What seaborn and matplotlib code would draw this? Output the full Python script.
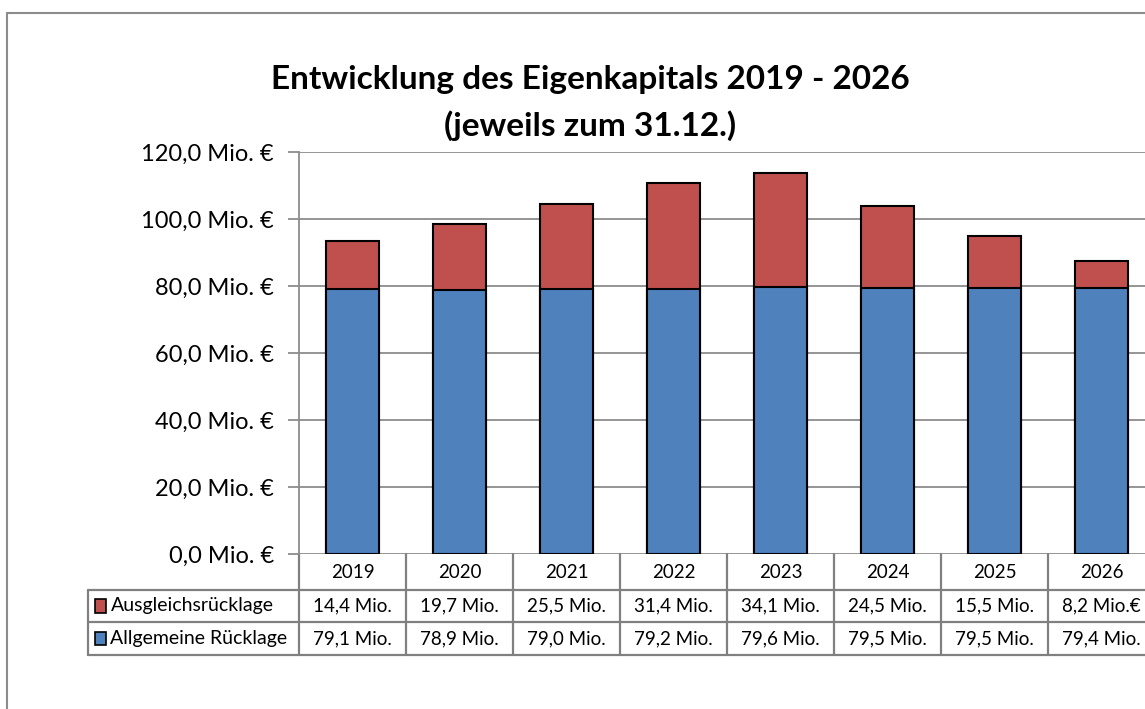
import numpy as np
import pandas as pd
import seaborn as sns
import matplotlib.pyplot as plt
from matplotlib.patches import Rectangle
import matplotlib.transforms as mtransforms

# Daten
jahre = ['2019', '2020', '2021', '2022', '2023', '2024', '2025', '2026']
allgemeine = [79.1, 78.9, 79.0, 79.2, 79.6, 79.5, 79.5, 79.4]
ausgleich = [14.4, 19.7, 25.5, 31.4, 34.1, 24.5, 15.5, 8.2]
ausgleich_txt = ['14,4 Mio.', '19,7 Mio.', '25,5 Mio.', '31,4 Mio.', '34,1 Mio.',
                 '24,5 Mio.', '15,5 Mio.', '8,2 Mio.€']
allgemeine_txt = ['79,1 Mio.', '78,9 Mio.', '79,0 Mio.', '79,2 Mio.', '79,6 Mio.',
                  '79,5 Mio.', '79,5 Mio.', '79,4 Mio.']
y_ticks = [0, 20, 40, 60, 80, 100, 120]

ROT = '#C0504D'
BLAU = '#4F81BD'
GRAU = '#8C8C8C'

sns.set_style('white')
plt.rcParams['font.family'] = ['Lato', 'DejaVu Sans']
plt.rcParams['text.color'] = 'black'
plt.rcParams['ytick.labelcolor'] = 'black'

df = pd.DataFrame({'Jahr': jahre,
                   'Allgemeine': allgemeine,
                   'Gesamt': np.array(allgemeine) + np.array(ausgleich)})

W, H = 1145, 709
fig = plt.figure(figsize=(W / 100, H / 100), dpi=100)
# Achse reicht (wie im Original) rechts über den Bildrand hinaus
ax = fig.add_axes([299 / W, 1 - 554 / H, 856 / W, 402 / H])

sns.barplot(data=df, x='Jahr', y='Gesamt', color=ROT, saturation=1,
            edgecolor='black', linewidth=1.5, width=0.5, ax=ax, zorder=3)
sns.barplot(data=df, x='Jahr', y='Allgemeine', color=BLAU, saturation=1,
            edgecolor='black', linewidth=1.5, width=0.5, ax=ax, zorder=4)

ax.set_xlim(-0.5, len(jahre) - 0.5)
ax.set_ylim(0, 120)
ax.set_yticks(y_ticks)
ax.set_yticklabels([f'{v:.1f}'.replace('.', ',') + ' Mio. €' for v in y_ticks],
                   fontsize=17, color='black')
ax.set_xticks([])
ax.set_xlabel('')
ax.set_ylabel('')
ax.yaxis.grid(True, color=GRAU, linewidth=1.3, zorder=0)
ax.set_axisbelow(True)
for s in ['top', 'right', 'bottom']:
    ax.spines[s].set_visible(False)
ax.spines['left'].set_color(GRAU)
ax.spines['left'].set_linewidth(1.3)
ax.tick_params(axis='y', length=8, width=1.3, color=GRAU, pad=10, left=True)

# Datentabelle unter der Achse
trans = mtransforms.blended_transform_factory(ax.transData, ax.transAxes)
y_kopf = -36 / 402
y_r1 = -68 / 402
y_r2 = -101 / 402
x_links = -0.5 - (299 - 88) / 107
x_rechts = len(jahre) - 0.5
lw = dict(color='#808080', linewidth=1.6, transform=trans, clip_on=False)

ax.plot([x_links, x_rechts], [y_kopf, y_kopf], **lw)
ax.plot([x_links, x_rechts], [y_r1, y_r1], **lw)
ax.plot([x_links, x_rechts], [y_r2, y_r2], **lw)
ax.plot([x_links, x_links], [y_kopf, y_r2], **lw)
for i in range(len(jahre) + 1):
    ax.plot([i - 0.5, i - 0.5], [0, y_r2], **lw)

for i, j in enumerate(jahre):
    ax.text(i, y_kopf / 2, j, transform=trans, ha='center', va='center', fontsize=13.5)
    ax.text(i, (y_kopf + y_r1) / 2, ausgleich_txt[i], transform=trans,
            ha='center', va='center', fontsize=13.5)
    ax.text(i, (y_r1 + y_r2) / 2, allgemeine_txt[i], transform=trans,
            ha='center', va='center', fontsize=13.5)

for (ya, yb, farbe, name) in [(y_kopf, y_r1, ROT, 'Ausgleichsrücklage'),
                              (y_r1, y_r2, BLAU, 'Allgemeine Rücklage')]:
    ym = (ya + yb) / 2
    ax.add_patch(Rectangle((x_links + 0.07, ym - 0.017), 0.1, 0.034,
                           facecolor=farbe, edgecolor='black', linewidth=1.2,
                           transform=trans, clip_on=False))
    ax.text(x_links + 0.21, ym, name, transform=trans, ha='left', va='center',
            fontsize=14)

# Titel
fig.text(590 / W, 1 - 80 / H, 'Entwicklung des Eigenkapitals 2019 - 2026',
         ha='center', va='center', fontsize=24, fontweight='bold')
fig.text(590 / W, 1 - 126 / H, '(jeweils zum 31.12.)',
         ha='center', va='center', fontsize=24, fontweight='bold')

# Rahmen des Diagramms
fig.add_artist(Rectangle((7 / W, -0.1), 1.2, 1 - 13 / H + 0.1,
                         transform=fig.transFigure, fill=False,
                         edgecolor=GRAU, linewidth=1.5))

fig.savefig('out.png', dpi=100)
